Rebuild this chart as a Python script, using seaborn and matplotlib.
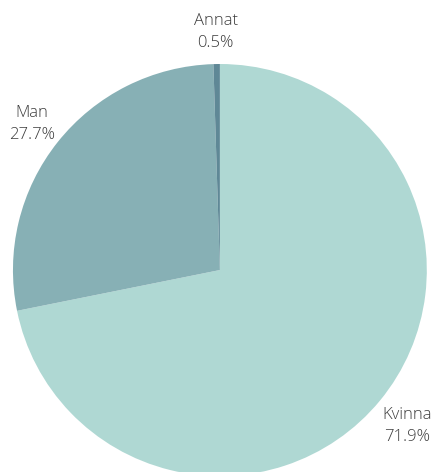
import matplotlib
matplotlib.use("Agg")
import matplotlib.pyplot as plt
import seaborn as sns

sns.set_theme(style="white")
plt.rcParams['font.family'] = ['Open Sans', 'DejaVu Sans']

# Data
labels = ["Kvinna", "Man", "Annat"]
shares = [71.9, 27.7, 0.5]
colors = ["#afd8d3", "#87b0b5", "#5f8896"]

fig = plt.figure(figsize=(4.32, 4.72), dpi=100)
ax = fig.add_axes([0.030, -0.0086, 0.958, 0.873])

ax.pie(shares, colors=colors, startangle=90, counterclock=False,
       wedgeprops=dict(linewidth=0), radius=1)
ax.set_xlim(-1, 1)
ax.set_ylim(-1, 1)
ax.set_aspect("auto")
ax.axis("off")

# label positions (data coords)
label_pos = [(0.905, -0.755), (-0.91, 0.71), (-0.02, 1.155)]
for lab, val, (x, y) in zip(labels, shares, label_pos):
    ax.text(x, y, f"{lab}\n{val}%", ha="center", va="center", fontsize=12,
            color="#3d3d3d", fontweight="light", linespacing=1.5,
            clip_on=False)

fig.savefig("out.png", dpi=100)
